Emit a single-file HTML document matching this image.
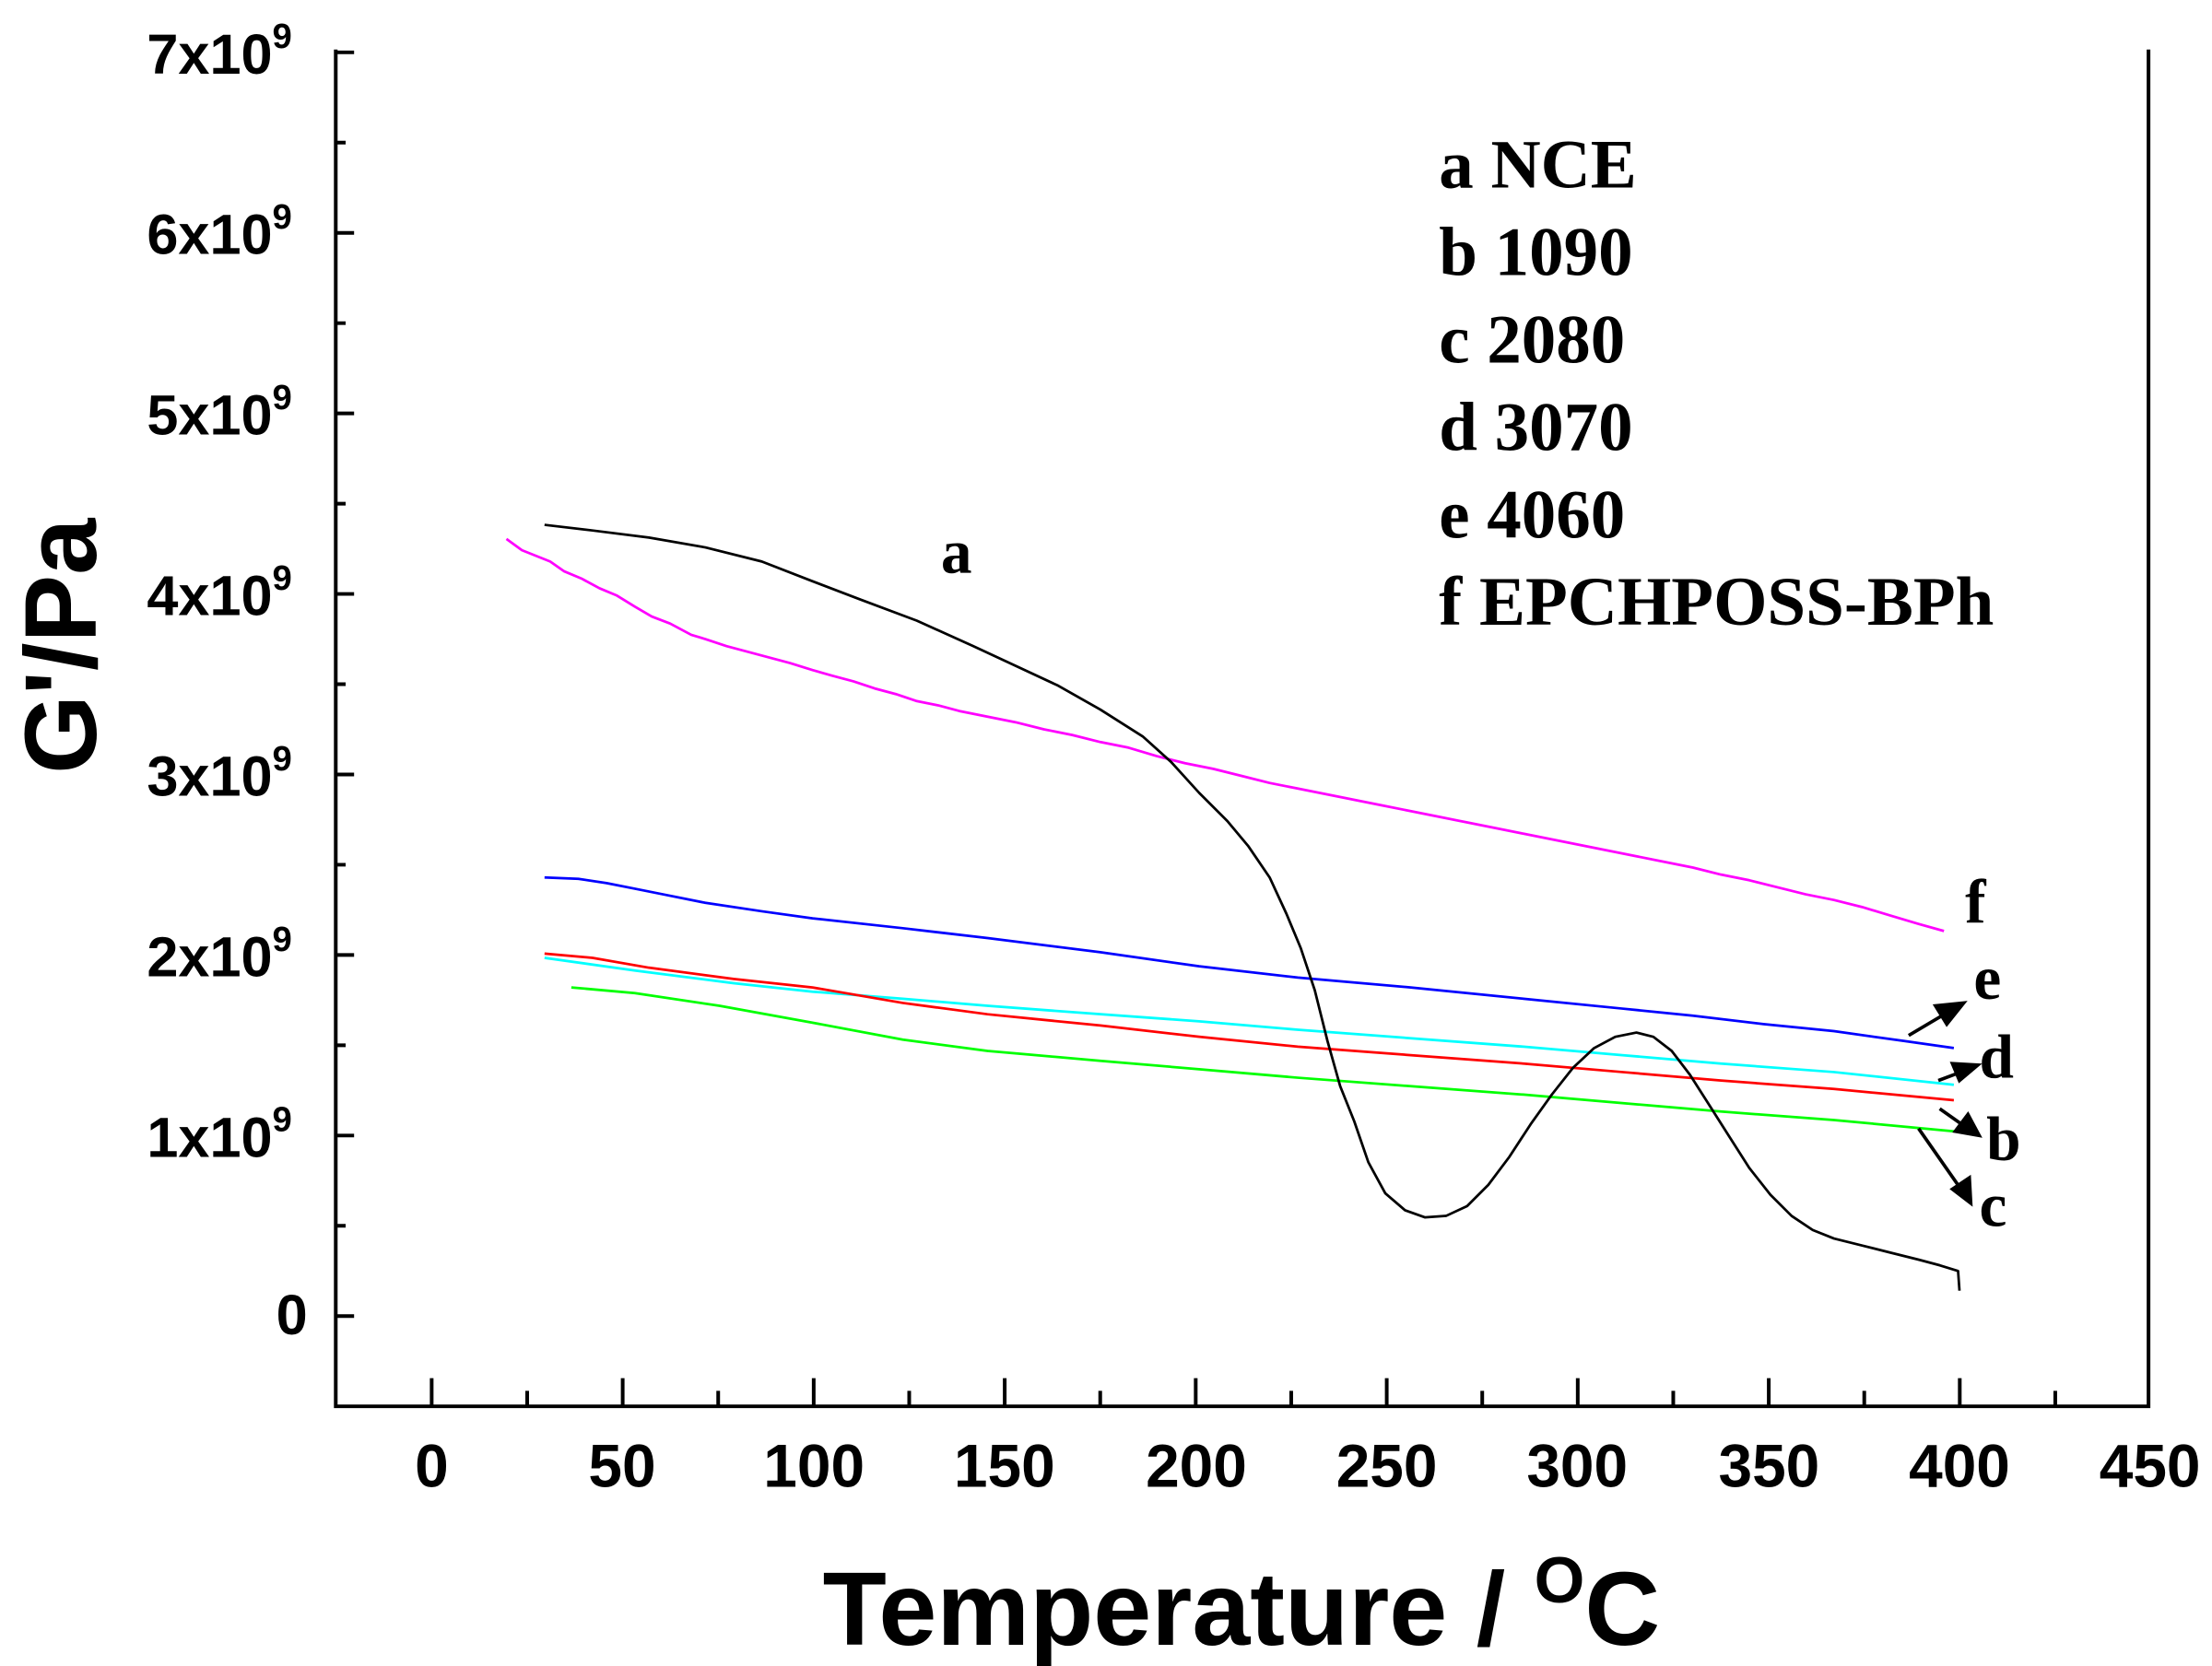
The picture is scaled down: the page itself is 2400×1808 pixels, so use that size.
<!DOCTYPE html>
<html><head><style>body{margin:0;background:#fff}svg{display:block}</style></head><body>
<svg width="2400" height="1808" viewBox="0 0 1568 1181" xmlns="http://www.w3.org/2000/svg">
<rect width="1568" height="1181" fill="#fff"/>
<g stroke="#000" stroke-width="2.6" fill="none">
<path d="M238,35 V997 H1523 V35"/>
<path d="M306,997v-20M441.4,997v-20M576.8,997v-20M712.2,997v-20M847.6,997v-20M983,997v-20M1118.4,997v-20M1253.8,997v-20M1389.2,997v-20"/>
<path d="M373.7,997v-11M509.1,997v-11M644.5,997v-11M779.9,997v-11M915.3,997v-11M1050.7,997v-11M1186.1,997v-11M1321.5,997v-11M1456.9,997v-11"/>
<path d="M238,933h13M238,805h13M238,677h13M238,549h13M238,421h13M238,293h13M238,165h13M238,37h13"/>
<path d="M238,869h7M238,741h7M238,613h7M238,485h7M238,357h7M238,229h7M238,101h7"/>
</g>
<g font-family="Liberation Sans, sans-serif" font-weight="bold" font-size="43" text-anchor="middle">
<text x="306" y="1054">0</text><text x="441" y="1054">50</text><text x="577" y="1054">100</text><text x="712" y="1054">150</text><text x="848" y="1054">200</text><text x="983" y="1054">250</text><text x="1118" y="1054">300</text><text x="1254" y="1054">350</text><text x="1389" y="1054">400</text><text x="1524" y="1054">450</text>
</g>
<g font-family="Liberation Sans, sans-serif" font-weight="bold" font-size="40" text-anchor="end">
<text x="218" y="946">0</text>
<text x="207" y="820">1x10<tspan font-size="25" dy="-18">9</tspan></text>
<text x="207" y="692">2x10<tspan font-size="25" dy="-18">9</tspan></text>
<text x="207" y="564">3x10<tspan font-size="25" dy="-18">9</tspan></text>
<text x="207" y="436">4x10<tspan font-size="25" dy="-18">9</tspan></text>
<text x="207" y="308">5x10<tspan font-size="25" dy="-18">9</tspan></text>
<text x="207" y="180">6x10<tspan font-size="25" dy="-18">9</tspan></text>
<text x="207" y="52">7x10<tspan font-size="25" dy="-18">9</tspan></text>
</g>
<text transform="translate(68,458) rotate(-90)" font-family="Liberation Sans, sans-serif" font-weight="bold" font-size="72" text-anchor="middle">G'/Pa</text>
<text x="880" y="1166" font-family="Liberation Sans, sans-serif" font-weight="bold" font-size="74" text-anchor="middle">Temperature / <tspan font-size="46" dy="-30">O</tspan><tspan dy="30">C</tspan></text>
<g font-family="Liberation Serif, serif" font-weight="bold" font-size="49">
<text x="1020" y="133">a NCE</text><text x="1020" y="195">b 1090</text><text x="1020" y="257">c 2080</text><text x="1020" y="319">d 3070</text><text x="1020" y="381">e 4060</text><text x="1020" y="443">f EPCHPOSS-BPh</text>
</g>
<g font-family="Liberation Serif, serif" font-weight="bold" font-size="44">
<text x="667" y="406">a</text><text x="1393" y="654">f</text><text x="1399" y="708">e</text><text x="1403" y="764">d</text><text x="1408" y="822">b</text><text x="1403" y="869">c</text>
</g>
<g fill="none" stroke-width="1.8" stroke-linejoin="round">
<polyline stroke="#ff00ff" points="359,382 370,390 380,394 390,398 400,405 412,410 425,417 437,422 450,430 462,437 475,442 490,450 500,453 515,458 530,462 545,466 560,470 576,475 590,479 605,483 620,488 635,492 650,497 665,500 680,504 700,508 720,512 740,517 760,521 780,526 800,530 820,536 840,541 860,545 880,550 900,555 920,559 940,563 960,567 980,571 1000,575 1020,579 1040,583 1060,587 1080,591 1100,595 1120,599 1140,603 1160,607 1180,611 1200,615 1220,620 1240,624 1260,629 1280,634 1300,638 1320,643 1340,649 1360,655 1378,660"/>
<polyline stroke="#0000ff" points="386,622 410,623 430,626 450,630 470,634 500,640 540,646 576,651 640,658 700,665 780,675 850,685 920,693 1000,700 1080,708 1150,715 1200,720 1250,726 1300,731 1350,738 1385,743"/>
<polyline stroke="#00ffff" points="386,679 450,688 520,697 576,703 640,708 700,713 780,719 850,724 920,730 1000,736 1080,742 1150,748 1220,754 1300,760 1385,769"/>
<polyline stroke="#ff0000" points="386,676 420,679 460,686 520,694 576,700 640,711 700,719 780,727 850,735 920,742 1000,748 1080,754 1150,760 1220,766 1300,772 1385,780"/>
<polyline stroke="#00ff00" points="405,700 450,704 510,713 576,725 640,737 700,745 780,752 850,758 920,764 1000,770 1080,776 1150,782 1220,788 1300,794 1385,802"/>
<polyline stroke="#000" points="386,372 420,376 460,381 500,388 540,398 576,412 610,425 650,440 690,458 720,472 750,486 780,503 810,522 830,540 850,562 870,582 885,600 900,622 912,648 922,672 932,702 941,738 950,770 960,795 970,824 982,846 996,858 1010,863 1025,862 1040,855 1055,840 1070,820 1085,797 1100,776 1115,757 1130,743 1145,735 1160,732 1172,735 1185,745 1198,762 1212,784 1226,806 1240,828 1255,847 1270,862 1285,872 1300,878 1320,883 1340,888 1360,893 1375,897 1388,901 1389,915"/>
</g>
<g stroke="#000" stroke-width="2.4" fill="#000">
<line x1="1353" y1="734" x2="1380" y2="718"/><polygon points="1392,711 1372,713 1380,726"/>
<line x1="1374" y1="766" x2="1390" y2="760"/><polygon points="1402,755 1384,754 1389,766"/>
<line x1="1375" y1="786" x2="1392" y2="798"/><polygon points="1403,805 1395,790 1386,802"/>
<line x1="1360" y1="800" x2="1390" y2="843"/><polygon points="1397,853 1396,835 1384,843"/>
</g>
</svg>
</body></html>
